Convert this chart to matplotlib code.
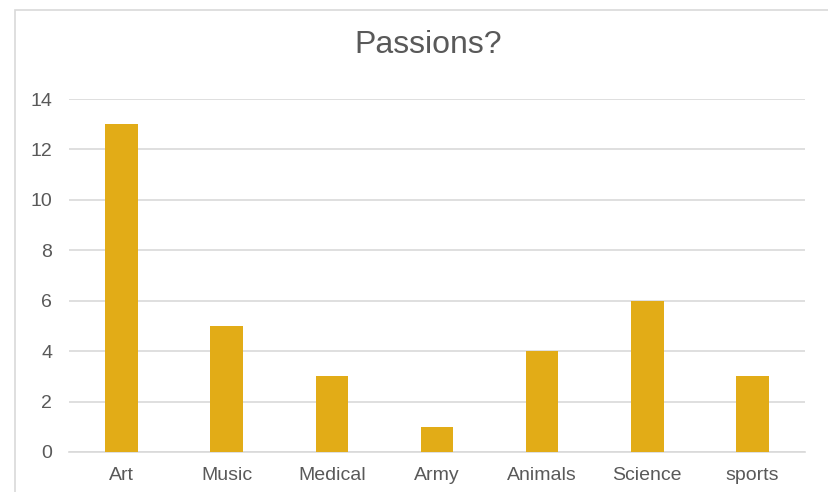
import matplotlib
matplotlib.use("Agg")
import matplotlib.pyplot as plt
import matplotlib.patches as patches
import numpy as np

categories = ["Art", "Music", "Medical", "Army", "Animals", "Science", "sports"]
counts = [13, 5, 3, 1, 4, 6, 3]
yticks = [0, 2, 4, 6, 8, 10, 12, 14]

plt.rcParams['font.family'] = ['Liberation Sans', 'DejaVu Sans']
text_col = "#595959"
grid_col = "#D9D9D9"
bar_col = "#E2AC17"

fig = plt.figure(figsize=(8.29, 4.92), dpi=100)
ax = fig.add_axes([69 / 829, 40 / 492, 736 / 829, 353 / 492])

x = np.arange(len(categories))
ax.bar(x, counts, width=0.31, color=bar_col, zorder=3)

ax.set_xlim(-0.5, len(categories) - 0.5)
ax.set_ylim(0, 14)
ax.set_yticks(yticks)
ax.set_xticks(x)
ax.set_xticklabels(categories)
ax.tick_params(axis="both", length=0, labelsize=14, colors=text_col)
ax.tick_params(axis="y", pad=12)
ax.tick_params(axis="x", pad=11)
ax.yaxis.grid(True, color=grid_col, linewidth=1.2, zorder=0)

for side in ["top", "right", "left"]:
    ax.spines[side].set_visible(False)
ax.spines["bottom"].set_color(grid_col)
ax.spines["bottom"].set_linewidth(1.2)

fig.text(428 / 829, 1 - 45 / 492, "Passions?", ha="center", va="center",
         fontsize=23, color=text_col)

# light frame around the chart area
frame = patches.Rectangle((15 / 829, -0.1), 1.0, 1 - 10 / 492 + 0.1,
                          transform=fig.transFigure, fill=False,
                          edgecolor="#D9D9D9", linewidth=1.2, clip_on=False)
fig.patches.append(frame)

fig.savefig("out.png", dpi=100)
plt.close(fig)
